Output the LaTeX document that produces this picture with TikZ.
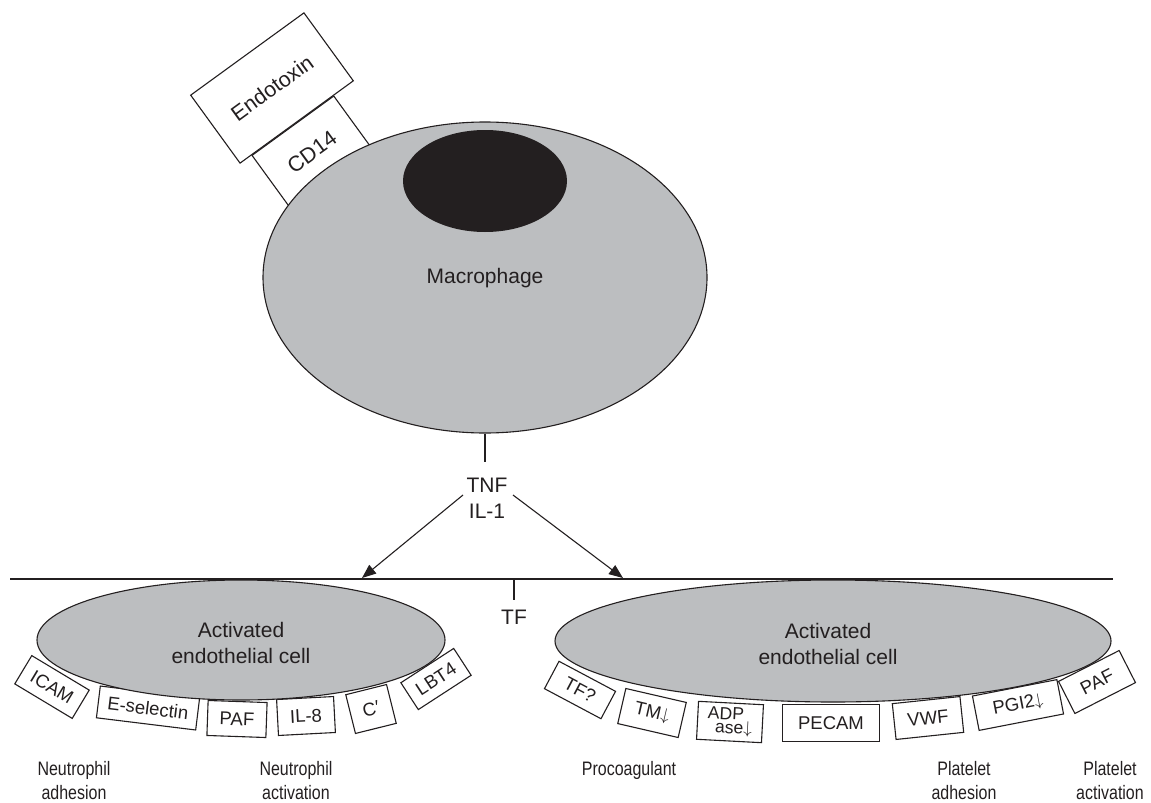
\documentclass[tikz,border=0pt]{standalone}
\usepackage{fontspec}
\setmainfont{Liberation Sans}
\newfontfamily\condfont[FakeStretch=0.82]{Liberation Sans}
\usetikzlibrary{arrows.meta,shapes.geometric}
\definecolor{cellgray}{HTML}{BCBEC0}
\definecolor{nucdark}{HTML}{231F20}
\definecolor{ink}{HTML}{231F20}
\newcommand{\dnarr}{\raisebox{0.5pt}{$\downarrow$}}
\begin{document}
\begin{tikzpicture}[x=1pt,y=-1pt,line width=1.1pt,
  cellshape/.style={ellipse,draw=ink,fill=cellgray,inner sep=0pt},
  lbl/.style={text=ink,font=\fontsize{21}{26}\selectfont,align=center,inner sep=0pt},
  tag/.style={draw=ink,fill=white,text=ink,inner sep=0pt,font=\fontsize{18.5}{20}\selectfont},
  biglbl/.style={draw=ink,fill=white,text=ink,inner sep=0pt,font=\fontsize{21.5}{24}\selectfont},
  foot/.style={text=ink,font=\condfont\fontsize{19.5}{23.5}\selectfont,align=center,inner sep=0pt,anchor=north},
  conn/.style={draw=ink,line width=1.1pt},
  arr/.style={conn,-{Triangle[length=14pt,width=11pt]}}]
\useasboundingbox (0,0) rectangle (1151,803);
% receptor boxes
\node[biglbl,minimum width=101pt,minimum height=65pt,rotate=36] (cd14) at (312,152) {CD14};
\node[biglbl,minimum width=140pt,minimum height=84pt,rotate=36] (endo) at (272,88) {Endotoxin};
% macrophage
\node[cellshape,minimum width=444pt,minimum height=311pt] (mac) at (485,277.5) {};
\node[ellipse,fill=nucdark,inner sep=0pt,minimum width=164pt,minimum height=102pt] (nuc) at (485,181) {};
\node[lbl] (macl) at (485,278) {Macrophage};
% mediators
\coordinate (stem) at (485,462);
\draw[conn] (mac.south) -- (stem);
\node[lbl] (tnf) at (487,498) {TNF\\IL-1};
\coordinate (aLs) at (463,495);
\coordinate (aRs) at (513,495);
\coordinate (aLe) at (362,578);
\coordinate (aRe) at (623,578);
\draw[arr] (aLs) -- (aLe);
\draw[arr] (aRs) -- (aRe);
% membrane
\coordinate (memL) at (10,579);
\coordinate (memR) at (1113,579);
\draw[conn] (memL) -- (memR);
\coordinate (tfs) at (514,579);
\node[lbl] (tf) at (514,617) {TF};
\draw[conn] (tfs) -- (tf.north |- 0,600);
% left cell tags
\node[tag,minimum width=67pt,minimum height=33pt,rotate=-31] (icam) at (52,687) {ICAM};
\node[tag,minimum width=100pt,minimum height=32pt,rotate=-7] (esel) at (148,708) {E-selectin};
\node[tag,minimum width=59pt,minimum height=35pt,rotate=-2] (pafL) at (237,719) {PAF};
\node[tag,minimum width=57pt,minimum height=36pt,rotate=3] (il8) at (306,716) {IL-8};
\node[tag,minimum width=42pt,minimum height=40pt,rotate=14] (cp) at (371,709) {C′};
\node[tag,minimum width=63pt,minimum height=32pt,rotate=33] (lbt) at (436,679) {LBT4};
% right cell tags
\node[tag,minimum width=64pt,minimum height=31pt,rotate=-28] (tfq) at (580,690) {TF?};
\node[tag,minimum width=62pt,minimum height=36pt,rotate=-13] (tm) at (652,713) {TM\dnarr};
\node[tag,minimum width=65pt,minimum height=38pt,rotate=-3,align=left,font=\fontsize{17.5}{14}\selectfont] (adp) at (730,722) {ADP\\\hspace*{8pt}ase\dnarr};
\node[tag,minimum width=97pt,minimum height=37pt] (pecam) at (831,723) {PECAM};
\node[tag,minimum width=68pt,minimum height=36pt,rotate=6] (vwf) at (928,718) {VWF};
\node[tag,minimum width=86pt,minimum height=35pt,rotate=11] (pgi) at (1018,705) {PGI2\dnarr};
\node[tag,minimum width=68pt,minimum height=36pt,rotate=27] (pafR) at (1097,682) {PAF};
% endothelial cells
\node[cellshape,minimum width=408pt,minimum height=120pt] (ecL) at (241,640) {};
\node[lbl] (ecLl) at (241,643) {Activated\\endothelial cell};
\node[cellshape,minimum width=556pt,minimum height=122pt] (ecR) at (833,641) {};
\node[lbl] (ecRl) at (828,644) {Activated\\endothelial cell};
% footer labels
\node[foot] (f1) at (74,761) {Neutrophil\\adhesion};
\node[foot] (f2) at (296,761) {Neutrophil\\activation};
\node[foot] (f3) at (629,761) {Procoagulant};
\node[foot] (f4) at (964,761) {Platelet\\adhesion};
\node[foot] (f5) at (1110,761) {Platelet\\activation};
\end{tikzpicture}
\end{document}
